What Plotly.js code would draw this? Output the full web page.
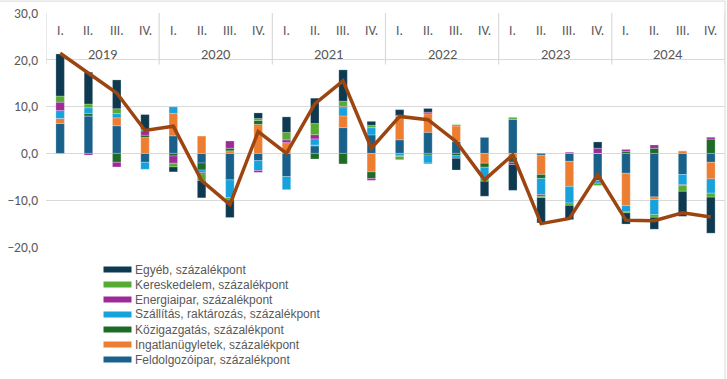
<!DOCTYPE html>
<html>
<head>
<meta charset="utf-8">
<script src="https://cdn.plot.ly/plotly-3.0.1.min.js"></script>
<style>html,body{margin:0;padding:0;background:#fff;}#chart{width:727px;height:379px;}</style>
</head>
<body>
<div id="chart"></div>
<script>
// Categories
const quarters = ["I.","II.","III.","IV.","I.","II.","III.","IV.","I.","II.","III.","IV.","I.","II.","III.","IV.","I.","II.","III.","IV.","I.","II.","III.","IV."];
const years = ["2019","2020","2021","2022","2023","2024"];

// Series (percentage points)
const feldolgozoipar = [6.4, 8.0, 5.9, -1.9, 3.75, -2.05, -5.65, -1.55, -4.95, 1.6, 5.5, 3.95, 2.9, 4.5, 2.55, 3.4, 7.3, -0.4, -1.7, -5.8, -4.25, -9.3, -4.5, -1.9];
const ingatlan = [1.05, 0, 1.7, 3.4, 4.8, 3.7, 0.55, 6.2, 2.3, 0.2, 2.5, -3.95, 5.1, 3.95, 3.3, -2.1, -0.85, -4.1, -5.35, 0, -6.9, -0.55, 0.55, -3.55];
const kozigazgatas = [0, 0.55, -1.9, 0.5, -0.55, -1.5, 0.55, 0.85, 0, -1.2, -2.25, -1.4, 0.15, -0.35, -0.5, -0.85, -1.05, -0.85, 0, 0, 0.45, 1.1, 0, 3.05];
const szallitas = [1.7, 1.2, 0.9, -1.5, 1.4, -0.55, -3.8, -2.1, -2.8, 1.3, 1.75, 1.55, -0.5, -1.7, -0.55, -2.5, 0, -3.45, -3.55, -0.55, -1.35, -3.25, -2.2, -3.05];
const energiaipar = [1.8, -0.35, -1.0, 0.9, -1.55, -0.3, 1.55, -0.4, 0.6, 0.9, 0.3, -0.4, -0.15, 0.35, 0.2, 0.1, -0.5, -0.35, 0.25, 1.1, 0.4, 0.7, -0.2, 0.4];
const kereskedelem = [1.3, 0.8, 1.05, 0.3, -0.8, -1.4, -0.55, 0.4, 1.6, 2.4, 1.1, 0.5, -0.7, -0.2, 0.1, -0.5, 0.4, -0.3, -0.5, -0.5, -0.2, -0.55, -1.2, -0.85];
const egyeb = [9.0, 6.8, 6.15, 3.2, -1.05, -3.7, -3.7, 1.2, 3.3, 5.4, 6.7, 0.85, 1.2, 0.8, -2.5, -3.2, -5.5, -5.4, -3.05, 1.35, -2.4, -2.55, -5.35, -7.7];
// Total (line)
const osszesen = [21.4, 17.2, 12.9, 4.9, 5.8, -5.8, -10.95, 4.66, 0.0, 10.6, 15.5, 1.1, 7.9, 7.2, 2.5, -5.65, -0.3, -15.0, -13.9, -4.5, -14.3, -14.4, -12.7, -13.6];

const seriesNames = ["Feldolgozóipar, százalékpont","Ingatlanügyletek, százalékpont","Közigazgatás, százalékpont","Szállítás, raktározás, százalékpont","Energiaipar, százalékpont","Kereskedelem, százalékpont","Egyéb, százalékpont"];
const seriesData = [feldolgozoipar, ingatlan, kozigazgatas, szallitas, energiaipar, kereskedelem, egyeb];
const seriesColors = ["#19618a","#ed7d31","#1e6b26","#17a2dc","#9e2a9a","#56ab33","#0d3a50"];

const xIdx = quarters.map((q,i)=>i);
const traces = seriesData.map((d,k)=>({
  type:"bar", x:xIdx, y:d, name:seriesNames[k], width:0.3,
  marker:{color:seriesColors[k], line:{color:"rgba(255,255,255,0.6)", width:0.4}},
  showlegend:false, hoverinfo:"name+y"
}));
traces.push({type:"scatter", mode:"lines", x:xIdx, y:osszesen, name:"Összesen",
  line:{color:"#9c4511", width:3.5}, showlegend:false});

const font = "Carlito, Lato, 'Liberation Sans', sans-serif";
const legFont = "'Liberation Sans', Arial, sans-serif";
const gray = "#595959";
const annotations = [];
const shapes = [];
quarters.forEach((q,i)=>annotations.push({x:i, y:26.3, xref:"x", yref:"y", text:q, showarrow:false, borderpad:0, font:{family:font,size:13.5,color:gray}}));
years.forEach((yr,j)=>annotations.push({x:j*4+1.5, y:21.2, xref:"x", yref:"y", text:yr, showarrow:false, borderpad:0, font:{family:font,size:14.5,color:gray}}));
for(let j=0;j<=years.length;j++){
  shapes.push({type:"line", xref:"x", yref:"y", x0:j*4-0.5, x1:j*4-0.5, y0:30, y1:19, line:{color:"#d9d9d9", width:1.2}});
}
// outer chart border (top and right)
shapes.push({type:"line", xref:"paper", yref:"paper", x0:-0.07, x1:1, y0:1.051, y1:1.051, line:{color:"#d9d9d9", width:1}});
shapes.push({type:"line", xref:"paper", yref:"paper", x0:1, x1:1, y0:1.051, y1:-0.57, line:{color:"#d9d9d9", width:1}});

// custom legend (reversed order)
const plotW = 679, plotH = 234, plotB = 247;
const legendY = [269.5, 284.5, 299.5, 314.5, 329.5, 344.5, 359.5];
for(let r=0;r<7;r++){
  const k = 6-r;
  const yc = legendY[r];
  shapes.push({type:"rect", xref:"paper", yref:"paper",
    x0:(103.5-46)/plotW, x1:(131.5-46)/plotW,
    y0:(plotB-(yc+3))/plotH, y1:(plotB-(yc-3))/plotH,
    fillcolor:seriesColors[k], line:{width:0}});
  annotations.push({xref:"paper", yref:"paper", x:(134-46)/plotW, y:(plotB-yc)/plotH,
    xanchor:"left", yanchor:"middle", text:seriesNames[k], showarrow:false, borderpad:0,
    font:{family:legFont, size:12, color:gray}});
}

const layout = {
  width:727, height:379,
  margin:{l:46, r:2, t:13, b:132},
  paper_bgcolor:"#ffffff", plot_bgcolor:"#ffffff",
  barmode:"relative",
  separators:", ",
  showlegend:false,
  xaxis:{range:[-0.5,23.5], showgrid:false, zeroline:false, showticklabels:false, ticks:"", fixedrange:true},
  yaxis:{range:[-20,30], dtick:10, tick0:0, tickformat:".1f", showgrid:true, gridcolor:"#d9d9d9", gridwidth:1.2,
    zeroline:false, ticks:"", ticklabelstandoff:7, tickfont:{family:font, size:13.5, color:gray}, fixedrange:true},
  font:{family:font, color:gray},
  annotations:annotations,
  shapes:shapes
};
Plotly.newPlot("chart", traces, layout, {displayModeBar:false, staticPlot:true});
</script>
</body>
</html>
